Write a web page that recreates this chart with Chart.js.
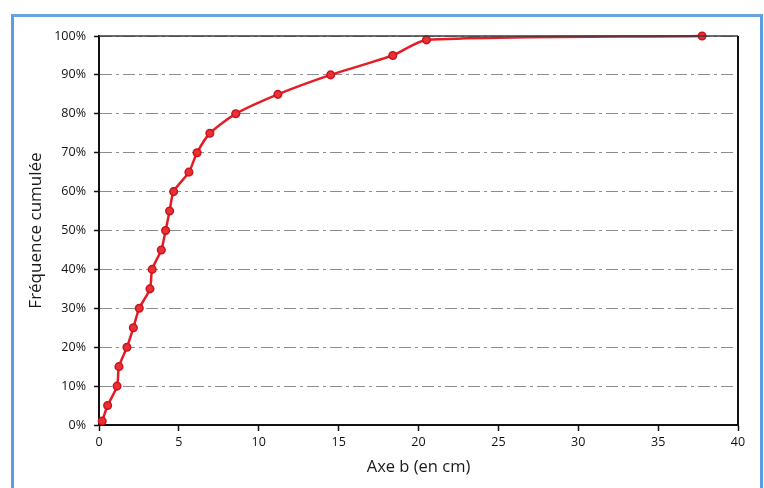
<!DOCTYPE html>
<html>
<head>
<meta charset="utf-8">
<script src="https://cdn.jsdelivr.net/npm/chart.js@4"></script>
<style>
  html, body { margin: 0; padding: 0; background: #ffffff; }
  #wrap { position: relative; width: 764px; height: 488px; overflow: hidden; background: #fff; }
  #frame { position: absolute; left: 11px; top: 14px; width: 746px; height: 520px;
           border: 3px solid #5b9ce6; border-top-color: #6aa3e0; pointer-events: none; }
  canvas { position: absolute; left: 0; top: 0; }
</style>
</head>
<body>
<div id="wrap">
  <canvas id="c" width="764" height="488"></canvas>
  <div id="frame"></div>
</div>
<script>
// Cumulative frequency of the b-axis length (cm)
const axeB = [0.2, 0.54, 1.13, 1.25, 1.75, 2.15, 2.52, 3.19, 3.33, 3.9, 4.17, 4.42, 4.67,
              5.63, 6.14, 6.94, 8.56, 11.2, 14.5, 18.39, 20.5, 37.75];
const frequenceCumulee = [1, 5, 10, 15, 20, 25, 30, 35, 40, 45, 50, 55, 60,
                          65, 70, 75, 80, 85, 90, 95, 99, 100];
const xTicks = [0, 5, 10, 15, 20, 25, 30, 35, 40];
const yTicks = [0, 10, 20, 30, 40, 50, 60, 70, 80, 90, 100];
const xTitle = 'Axe b (en cm)';
const yTitle = 'Fréquence cumulée';

const points = axeB.map((x, i) => ({ x: x, y: frequenceCumulee[i] }));

// Outline of the plot area (top and right sides)
const plotFrame = {
  id: 'plotFrame',
  afterDatasetsDraw(chart) {
    const { ctx, chartArea: a } = chart;
    ctx.save();
    ctx.lineWidth = 1.5;
    ctx.strokeStyle = '#3a3a3a';
    ctx.beginPath();
    ctx.moveTo(a.left, a.top);
    ctx.lineTo(a.right, a.top);
    ctx.stroke();
    ctx.strokeStyle = '#111';
    ctx.lineWidth = 2;
    ctx.beginPath();
    ctx.moveTo(a.right, a.top);
    ctx.lineTo(a.right, a.bottom);
    ctx.stroke();
    ctx.restore();
  }
};

new Chart(document.getElementById('c'), {
  type: 'scatter',
  data: {
    datasets: [{
      data: points,
      showLine: true,
      tension: 0.25,
      borderColor: '#e21d25',
      borderWidth: 2.5,
      backgroundColor: '#ec2f35',
      pointBorderColor: '#c9141c',
      pointBorderWidth: 1.5,
      pointRadius: 3.8,
      clip: false
    }]
  },
  options: {
    responsive: false,
    animation: false,
    events: [],
    layout: { padding: { left: 0, right: 26, top: 36, bottom: 0 } },
    plugins: { legend: { display: false }, tooltip: { enabled: false } },
    scales: {
      x: {
        type: 'linear',
        min: 0, max: 40,
        afterBuildTicks(scale) { scale.ticks = xTicks.map(v => ({ value: v })); },
        afterFit(scale) { scale.height = 63; },
        grid: { drawOnChartArea: false, drawTicks: true, tickLength: 6, color: '#111', tickWidth: 1.5 },
        border: { color: '#111', width: 2 },
        ticks: { color: '#111', padding: 4, maxRotation: 0, font: { family: 'Open Sans', size: 12.5 } },
        title: { display: true, text: xTitle, color: '#1a1a1a', padding: { top: 0, bottom: 11 },
                 font: { family: 'Open Sans', size: 16.5 } }
      },
      y: {
        type: 'linear',
        min: 0, max: 100,
        afterBuildTicks(scale) { scale.ticks = yTicks.map(v => ({ value: v })); },
        afterFit(scale) { scale.width = 99; },
        grid: { color: '#8c8c8c', lineWidth: 1, drawTicks: true, tickLength: 5,
                tickColor: '#111', tickBorderDash: [], tickWidth: 1.5 },
        border: { color: '#111', width: 2, dash: [12, 4, 3, 4] },
        ticks: { color: '#111', padding: 8, font: { family: 'Open Sans', size: 12.5 },
                 callback: v => v + '%' },
        title: { display: true, text: yTitle, color: '#1a1a1a', padding: { top: 26, bottom: 0 },
                 font: { family: 'Open Sans', size: 17 } }
      }
    }
  },
  plugins: [plotFrame]
});
</script>
</body>
</html>
